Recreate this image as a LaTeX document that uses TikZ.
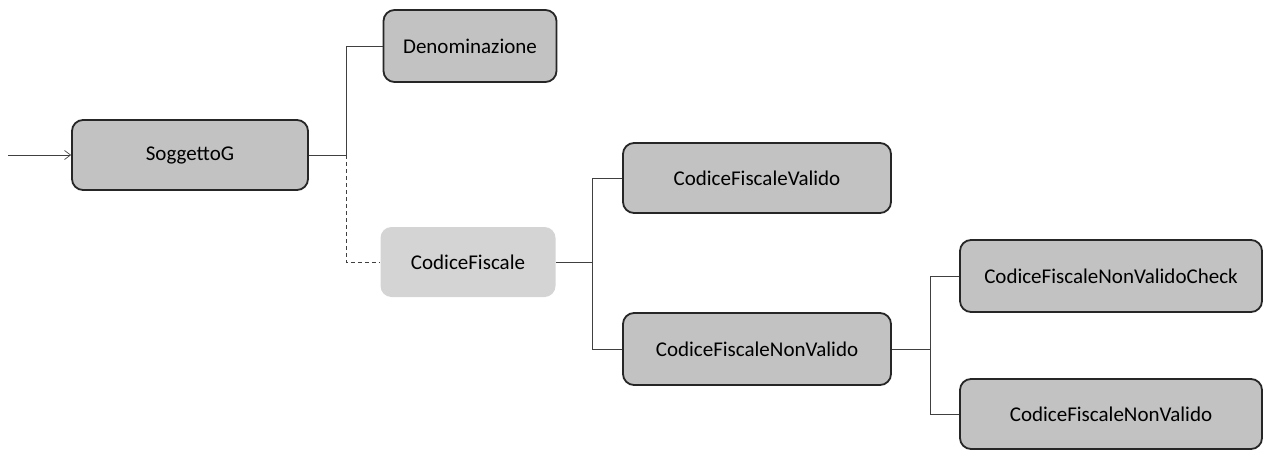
\documentclass[tikz,border=0pt]{standalone}
\usepackage{fontspec}
\setmainfont{Carlito}
\usetikzlibrary{arrows.meta}
\tikzset{
  box/.style={draw=black!85, line width=1.8pt, fill=black!24, rounded corners=11pt,
    minimum height=70pt, inner sep=0pt, font=\fontsize{21}{25}\selectfont},
  softbox/.style={box, draw=none, fill=black!17},
  link/.style={draw=black!75, line width=0.7pt},
}

\begin{document}
\begin{tikzpicture}[x=1pt, y=-1pt]
			%%%%% START %%%%%
			\useasboundingbox (0, 0) rectangle (1265, 452);
			
			\node[box, minimum width=236pt] (sogg) at (190, 155) {SoggettoG};
			\node[box, minimum width=173pt, minimum height=72pt] (denom) at (470, 46) {Denominazione};
			\node[softbox, minimum width=175pt] (codfis) at (468, 262) {CodiceFiscale};
			
			\node[box, minimum width=268pt] (cfvalido) at (757, 178) {CodiceFiscaleValido};
			\node[box, minimum width=268pt, minimum height=72pt] (cfnonvalido) at (757, 349) {CodiceFiscaleNonValido};
			
			\node[box, minimum width=302pt, minimum height=72pt] (cfcheck) at (1111, 276) {CodiceFiscaleNonValidoCheck};
			\node[box, minimum width=302pt] (cfnonvalidob) at (1111, 414) {CodiceFiscaleNonValido};
			
			\coordinate (start) at (8, 155);
			\draw[link, -{Straight Barb[length=6pt, width=9pt]}] (start) -- (sogg.west);
			
			\draw[link] (sogg.east) -- ++(37, 0) |- (denom.west);
			\draw[link, dashed, dash pattern=on 4pt off 3pt] (sogg.east) ++(37, 0) |- (codfis.west);
			
			\draw[link] (codfis.east) -- ++(36, 0) |- (cfvalido.west);
			\draw[link] (codfis.east) ++(36, 0) |- (cfnonvalido.west);
			
			\draw[link] (cfnonvalido.east) -- ++(38, 0) |- (cfcheck.west);
			\draw[link] (cfnonvalido.east) ++(38, 0) |- (cfnonvalidob.west);
			%%%%% END %%%%%
\end{tikzpicture}
\end{document}
